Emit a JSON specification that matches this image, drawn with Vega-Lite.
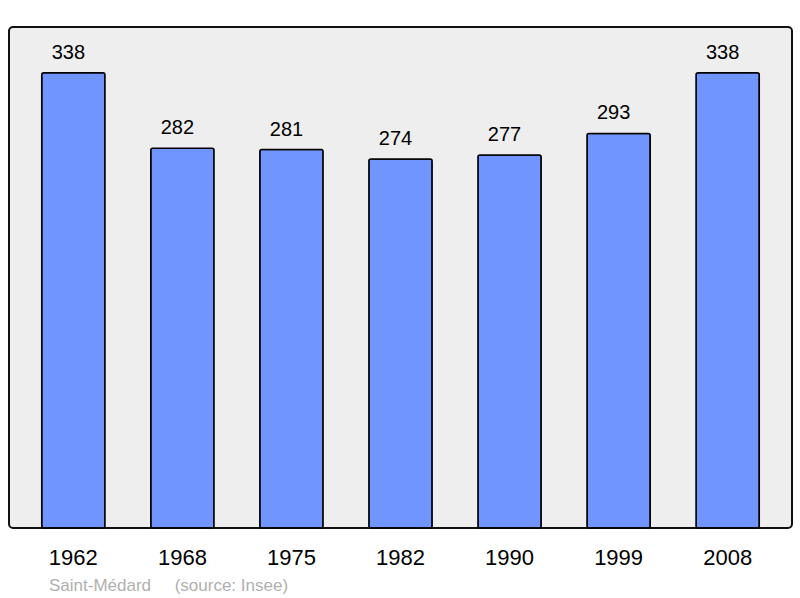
{
  "$schema": "https://vega.github.io/schema/vega-lite/v6.json",
  "width": 783,
  "height": 501,
  "autosize": {"type": "none"},
  "padding": {"left": 9, "top": 27, "right": 8, "bottom": 70},
  "background": "white",
  "title": {
    "text": "Saint-Médard\u00a0\u00a0\u00a0\u00a0 (source: Insee)",
    "orient": "bottom",
    "anchor": "start",
    "dx": 40,
    "offset": 10,
    "fontSize": 17,
    "font": "Liberation Sans",
    "fontWeight": "normal",
    "color": "#b0b0b0",
    "baseline": "top"
  },
  "config": {
    "view": {"fill": "#eeeeee", "stroke": "#111111", "strokeWidth": 2, "cornerRadius": 4}
  },
  "data": {
    "values": [
      {"year": "1962", "pop": 338},
      {"year": "1968", "pop": 282},
      {"year": "1975", "pop": 281},
      {"year": "1982", "pop": 274},
      {"year": "1990", "pop": 277},
      {"year": "1999", "pop": 293},
      {"year": "2008", "pop": 338}
    ]
  },
  "encoding": {
    "x": {
      "field": "year",
      "type": "ordinal",
      "scale": {"paddingInner": 0.42, "paddingOuter": 0.3},
      "axis": {
        "title": null,
        "ticks": false,
        "tickSize": 0,
        "domain": false,
        "labelAngle": 0,
        "labelFont": "Liberation Sans",
        "labelFontSize": 22,
        "labelColor": "#000000",
        "labelBaseline": "alphabetic",
        "labelPadding": 36
      }
    },
    "y": {
      "field": "pop",
      "type": "quantitative",
      "scale": {"domain": [0, 372], "nice": false, "zero": true},
      "axis": null
    }
  },
  "layer": [
    {
      "mark": {"type": "bar", "fill": "#7095ff", "stroke": "#000000", "strokeWidth": 1.5, "cornerRadius": 2}
    },
    {
      "mark": {"type": "text", "baseline": "alphabetic", "dy": -14, "dx": -5, "font": "Liberation Sans", "fontSize": 20, "color": "#000000"},
      "encoding": {"text": {"field": "pop", "type": "quantitative"}}
    }
  ]
}
